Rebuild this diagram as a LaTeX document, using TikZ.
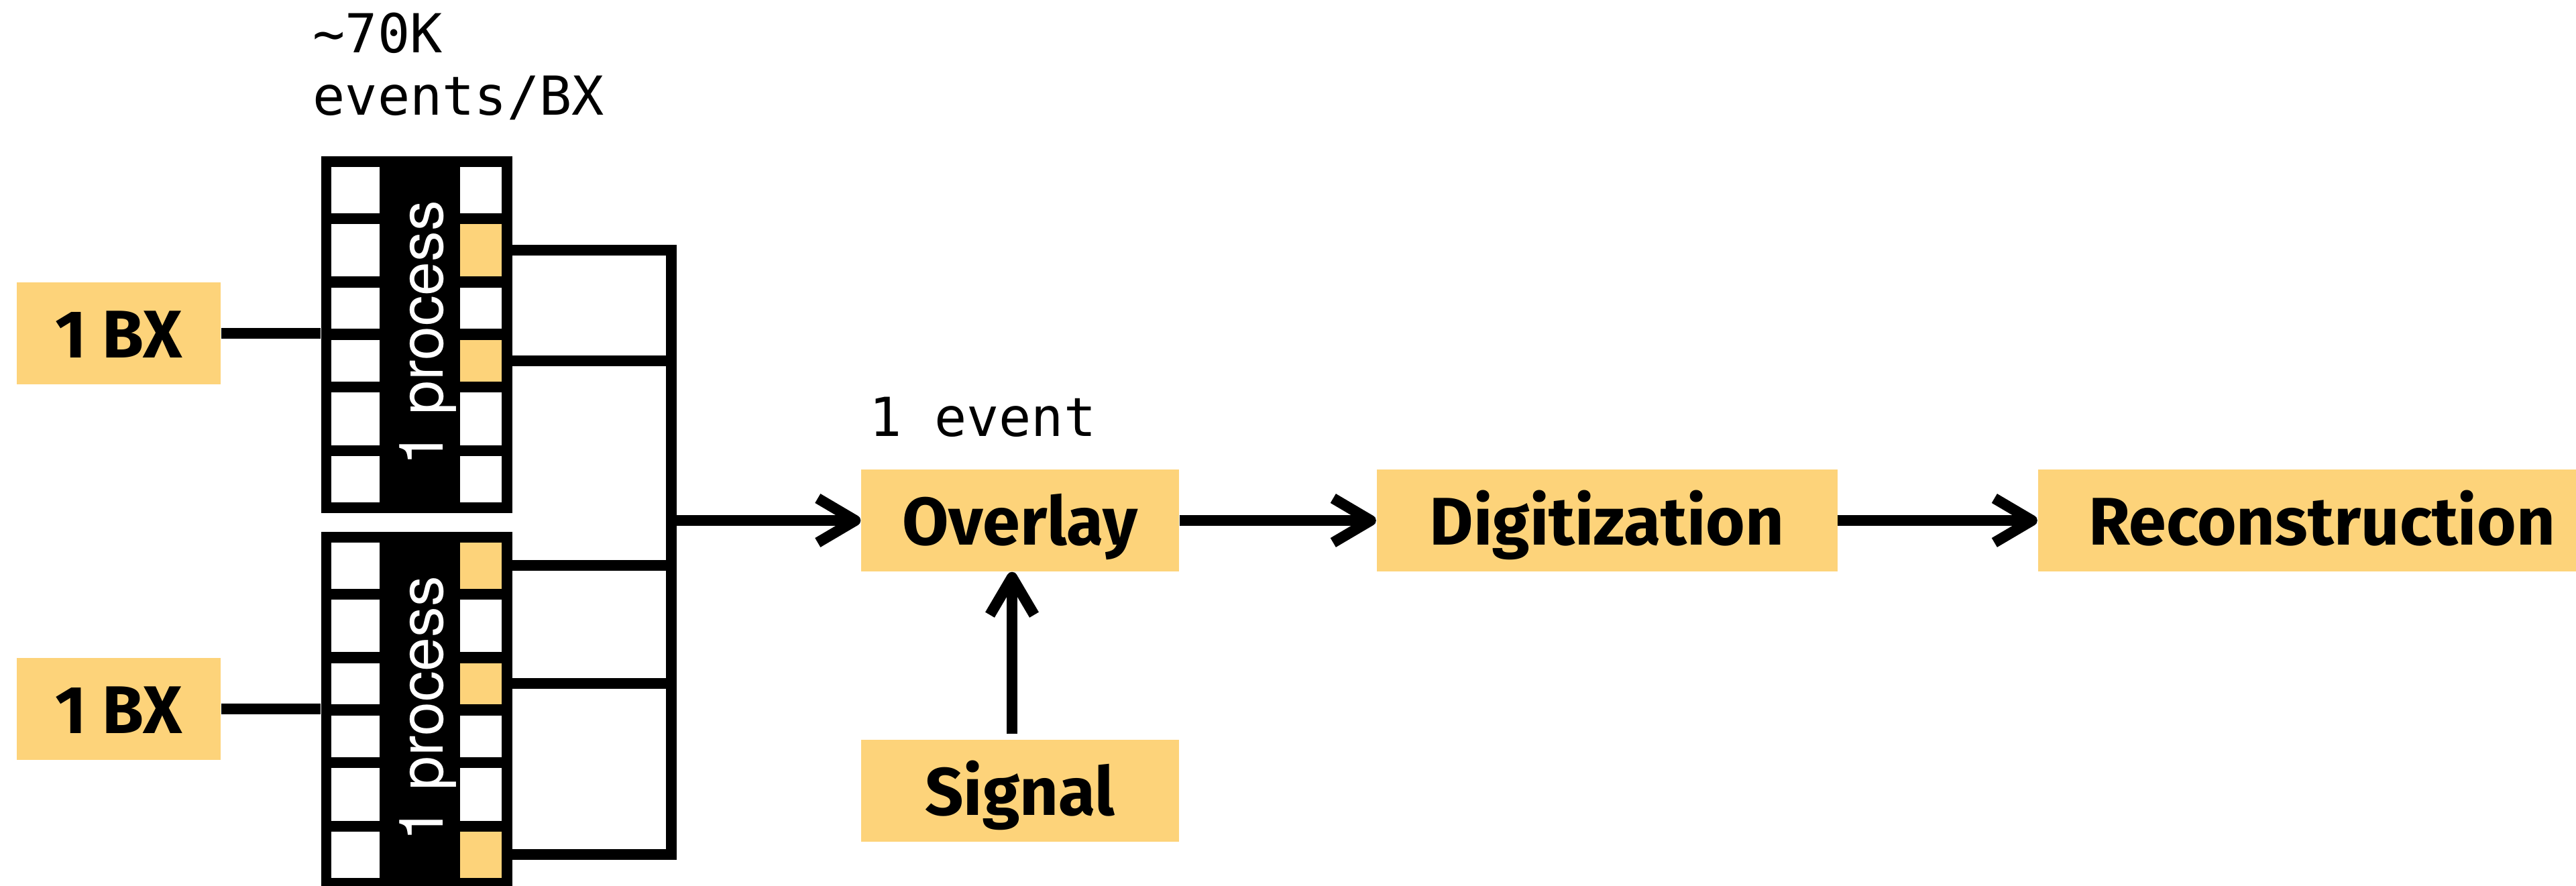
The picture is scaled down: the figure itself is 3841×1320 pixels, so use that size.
\documentclass[tikz,border=0pt]{standalone}
\usepackage{fontspec}
\usetikzlibrary{arrows.meta}

\newfontfamily\stagefont{Fira Sans}
\newfontfamily\procfont{TeX Gyre Heros}
\newfontfamily\codefont{DejaVu Sans Mono}
\definecolor{bxyellow}{HTML}{FDD37A}

\tikzset{
  stage/.style={fill=bxyellow, inner sep=0pt, minimum height=15.2mm,
    text height=7.2mm, text depth=0pt,
    font=\stagefont\bfseries\fontsize{28.6}{34}\selectfont},
  note/.style={inner sep=0pt, align=left, font=\codefont\fontsize{22.8}{26.5}\selectfont},
  procblock/.style={fill=black, inner sep=0pt, anchor=north west,
    minimum width=28.5mm, minimum height=53.2mm},
  cell/.style={inner sep=0pt, anchor=north west},
  wire/.style={line width=1.6mm},
  flow/.style={wire, -{Straight Barb[length=5.6mm, width=6.6mm, line join=round]}},
}

\begin{document}
\begin{tikzpicture}[x=0.1mm, y=-0.1mm]
\useasboundingbox (0,0) rectangle (3841,1320);

% input bunch crossings
\node[stage, minimum width=30.4mm] (bxA) at (177,497) {1 BX};
\node[stage, minimum width=30.4mm] (bxB) at (177,1057) {1 BX};

% two processes, each a column of event slots
\node[procblock] (blkA) at (478,232) {};
\node[procblock] (blkB) at (478,792) {};
\foreach \r/\t/\h/\fa/\fb in {1/16/69/white/bxyellow, 2/101/78/bxyellow/white,
    3/196/61/white/bxyellow, 4/274/62/bxyellow/white,
    5/352/79/white/white, 6/447/69/white/bxyellow}{
  \node[cell, fill=white, minimum width=7.2mm, minimum height=\h*0.1mm] (blkA-l\r) at (493,{232+\t}) {};
  \node[cell, fill=\fa, minimum width=6.2mm, minimum height=\h*0.1mm] (blkA-r\r) at (685,{232+\t}) {};
  \node[cell, fill=white, minimum width=7.2mm, minimum height=\h*0.1mm] (blkB-l\r) at (493,{792+\t}) {};
  \node[cell, fill=\fb, minimum width=6.2mm, minimum height=\h*0.1mm] (blkB-r\r) at (685,{792+\t}) {};
}
\node[rotate=90, anchor=base, inner sep=0pt, text=white,
  font=\procfont\fontsize{26}{30}\selectfont] (procA) at (660,497) {1 process};
\node[rotate=90, anchor=base, inner sep=0pt, text=white,
  font=\procfont\fontsize{26}{30}\selectfont] (procB) at (660,1057) {1 process};
\node[note, anchor=north west] (rate) at (466,18) {\textasciitilde70K\\events/BX};

% chain of steps
\node[stage, minimum width=47.4mm] (overlay) at (1521,776) {Overlay};
\node[stage, minimum width=68.7mm] (digi) at (2396,776) {Digitization};
\node[stage, minimum width=84.7mm] (reco) at (3462,776) {Reconstruction};
\node[stage, minimum width=47.4mm] (signal) at (1521,1179) {Signal};
\node[note, anchor=base west] (one) at (1296,650) {1 event};

\coordinate (bus) at (1001,776);

\draw[wire] (bxA.east) -- (blkA.west |- bxA.east);
\draw[wire] (bxB.east) -- (blkB.west |- bxB.east);
\draw[wire] (blkA-r2.east) -| (bus |- blkB-r6.east) -- (blkB-r6.east);
\draw[wire] (blkA-r4.east) -- (bus |- blkA-r4.east);
\draw[wire] (blkB-r1.east) -- (bus |- blkB-r1.east);
\draw[wire] (blkB-r3.east) -- (bus |- blkB-r3.east);

\draw[flow] (bus) -- (overlay.west);
\draw[flow] (overlay) -- (digi);
\draw[flow] (digi) -- (reco);
\draw[flow] ([xshift=-1.2mm, yshift=0.8mm]signal.north) -- ([xshift=-1.2mm]overlay.south);
\end{tikzpicture}
\end{document}
